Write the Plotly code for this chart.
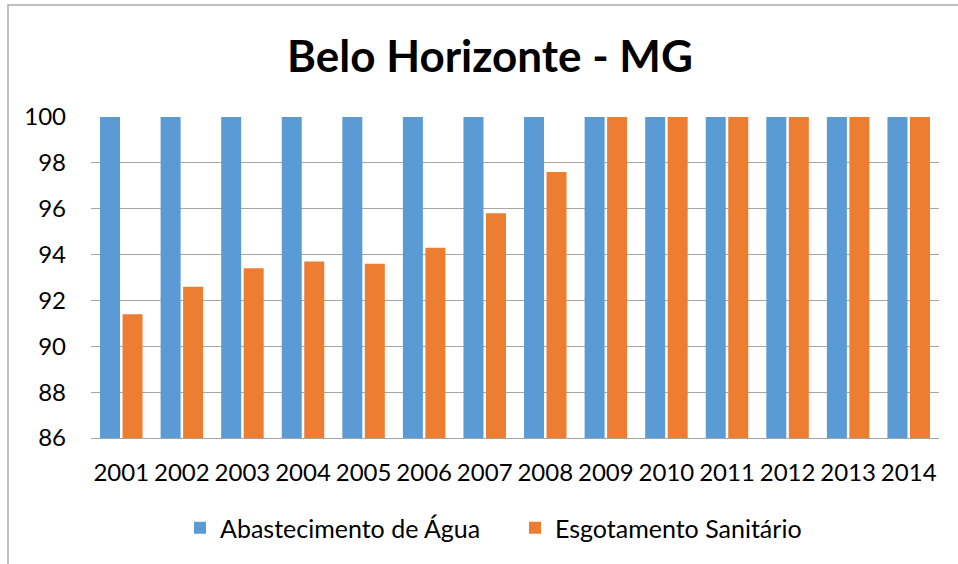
import plotly.graph_objects as go

years = ["2001", "2002", "2003", "2004", "2005", "2006", "2007",
         "2008", "2009", "2010", "2011", "2012", "2013", "2014"]
agua = [100, 100, 100, 100, 100, 100, 100, 100, 100, 100, 100, 100, 100, 100]
esgoto = [91.4, 92.6, 93.4, 93.7, 93.6, 94.3, 95.8, 97.6, 100, 100, 100, 100, 100, 100]
y_ticks = [86, 88, 90, 92, 94, 96, 98, 100]

W, H = 958, 564
L, R, T, B = 91, 19, 117, 126
pw, ph = W - L - R, H - T - B


def px(x):
    return (x - L) / pw


def py(y):  # y measured in pixels from the top of the figure
    return (H - B - y) / ph


FONT = "Lato"

fig = go.Figure()
fig.add_trace(go.Bar(x=years, y=agua, name="Abastecimento de Água",
                     marker=dict(color="#5B9BD5", line=dict(width=0))))
fig.add_trace(go.Bar(x=years, y=esgoto, name="Esgotamento Sanitário",
                     marker=dict(color="#ED7D31", line=dict(width=0))))

fig.update_layout(
    width=W, height=H,
    margin=dict(l=L, r=R, t=T, b=B),
    paper_bgcolor="white", plot_bgcolor="white",
    barmode="group", bargap=0.257, bargroupgap=0.111,
    font=dict(family=FONT, color="#000000", size=24),
    title=dict(text="<b>Belo Horizonte - MG</b>", xref="container", x=490 / W,
               xanchor="center", yref="container", y=1 - 57 / H, yanchor="middle",
               font=dict(size=44, family=FONT)),
    xaxis=dict(showgrid=False, showline=True, linecolor="#A6A6A6", linewidth=1,
               ticks="", tickfont=dict(size=24), ticklabelstandoff=13),
    yaxis=dict(range=[86, 100], tickvals=y_ticks, showgrid=True, gridcolor="#A6A6A6",
               gridwidth=1, zeroline=False, showline=False, ticks="",
               tickfont=dict(size=24), ticklabelstandoff=24),
    legend=dict(orientation="h", x=px(180), xanchor="left", y=py(528), yanchor="middle",
                font=dict(size=25), itemwidth=30, traceorder="normal",
                entrywidthmode="pixels", entrywidth=290),
    showlegend=True,
)

fig.add_shape(type="rect", xref="paper", yref="paper",
              x0=px(8), x1=px(1000), y0=py(620), y1=py(5),
              line=dict(color="#ABABAB", width=1.5), fillcolor="rgba(0,0,0,0)", layer="below")

fig.write_html("out.html", config={"displayModeBar": False},
               post_script="document.body.style.margin='0';")
